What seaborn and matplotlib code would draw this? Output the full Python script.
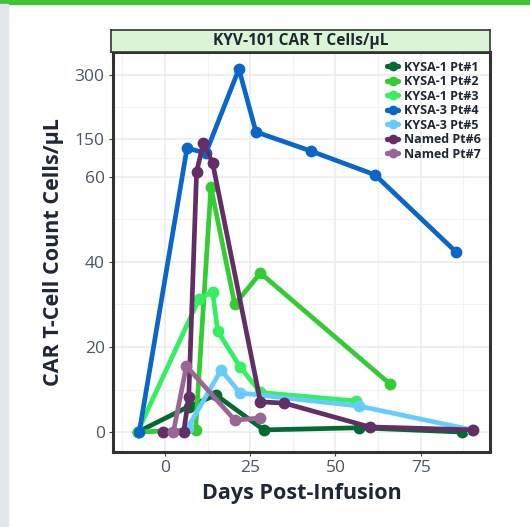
import numpy as np
import pandas as pd
import matplotlib
matplotlib.use("Agg")
import matplotlib.pyplot as plt
import seaborn as sns
from matplotlib.lines import Line2D
from matplotlib.patches import Rectangle
from matplotlib.ticker import FixedLocator

# series (days post-infusion, cells/uL)
pt1_day = [-8, 7, 15, 29, 57, 87]
pt1_val = [0, 6, 8.7, 0.5, 1.0, 0]
pt2_day = [-8, 9, 13.5, 20.5, 28, 66]
pt2_val = [0, 0.5, 57.6, 30, 37.4, 11.3]
pt3_day = [-8, 10, 14, 15.5, 22, 28, 56]
pt3_val = [0, 31.3, 33, 23.7, 15.4, 9.3, 7.3]
pt4_day = [-7.5, 6.5, 12, 21.7, 26.7, 42.8, 61.6, 85.3]
pt4_val = [0, 128, 116, 314, 166, 121, 65, 42.4]
pt5_day = [6.7, 16.5, 22, 57, 90]
pt5_val = [1.0, 14.6, 9.2, 6.1, 0.5]
pt6_day = [-0.5, 5.5, 7, 9.3, 11.3, 14, 28, 35, 60, 90.3]
pt6_val = [0, 0, 8.2, 72, 140, 93, 7.1, 6.8, 1.2, 0.5]
pt7_day = [2.5, 6.3, 20.5, 28]
pt7_val = [0, 15.5, 2.8, 3.3]

names = ["KYSA-1 Pt#1", "KYSA-1 Pt#2", "KYSA-1 Pt#3", "KYSA-3 Pt#4",
         "KYSA-3 Pt#5", "Named Pt#6", "Named Pt#7"]
colors = ["#036B32", "#33CC33", "#33F060", "#0A66C8",
          "#66CCFF", "#632E63", "#9B6596"]
days = [pt1_day, pt2_day, pt3_day, pt4_day, pt5_day, pt6_day, pt7_day]
vals = [pt1_val, pt2_val, pt3_val, pt4_val, pt5_val, pt6_val, pt7_val]

y_ticks = [0, 20, 40, 60, 150, 300]
x_ticks = [0, 25, 50, 75]

df = pd.concat([pd.DataFrame({"Day": d, "Cells": v, "Patient": n})
                for d, v, n in zip(days, vals, names)], ignore_index=True)


# axis is linear up to 60 then compressed 10x above it
def fwd(y):
    y = np.asarray(y, dtype=float)
    return np.where(y <= 60, y, 60 + (y - 60) / 10)


def inv(t):
    t = np.asarray(t, dtype=float)
    return np.where(t <= 60, t, 60 + (t - 60) * 10)


sns.set_style("white")
plt.rcParams["font.family"] = ["Open Sans", "DejaVu Sans"]

fig = plt.figure(figsize=(5.30, 5.27), dpi=100)
ax = fig.add_axes([113 / 530, 1 - 452 / 527, 377 / 530, 400 / 527])

sns.lineplot(data=df, x="Day", y="Cells", hue="Patient", hue_order=names,
             palette=dict(zip(names, colors)), estimator=None, sort=False,
             marker="o", markersize=8.5, markeredgewidth=0, linewidth=3.4,
             legend=False, ax=ax)

ax.set_yscale("function", functions=(fwd, inv))
ax.set_ylim(-4.7, 354)
ax.set_xlim(-15.2, 95.3)
ax.yaxis.set_major_locator(FixedLocator(y_ticks))
ax.yaxis.set_minor_locator(FixedLocator([10, 30, 50, 105, 225]))
ax.xaxis.set_major_locator(FixedLocator(x_ticks))
ax.xaxis.set_minor_locator(FixedLocator([-12.5, 12.5, 37.5, 62.5, 87.5]))
ax.set_yticklabels([str(t) for t in y_ticks])
ax.set_xticklabels([str(t) for t in x_ticks])

ax.grid(True, which="major", color="#EBEBEB", linewidth=1.1)
ax.grid(True, which="minor", color="#F2F2F2", linewidth=0.8)
ax.set_axisbelow(True)
for s in ax.spines.values():
    s.set_color("#333333")
    s.set_linewidth(2.2)
ax.tick_params(axis="both", which="major", length=3, width=0.8, color="#444444",
               labelsize=12.5, labelcolor="#4A5566", pad=3, left=True, bottom=True)
ax.tick_params(axis="both", which="minor", length=0)

ax.set_xlabel("Days Post-Infusion", fontsize=15.5, fontweight="bold",
              color="#1E2733", labelpad=5)
ax.set_ylabel("CAR T-Cell Count Cells/µL", fontsize=15.5, fontweight="bold",
              color="#1E2733", labelpad=8)

# strip title like a facet header
strip = fig.add_axes([111 / 530, 1 - 52 / 527, 379 / 530, 22 / 527])
strip.set_xticks([]); strip.set_yticks([])
strip.set_facecolor("#D9F5D3")
for s in strip.spines.values():
    s.set_color("#333333")
    s.set_linewidth(1.2)
strip.text(0.5, 0.5, "KYV-101 CAR T Cells/µL", ha="center", va="center",
           fontsize=11.2, fontweight="bold", color="#1E2733",
           transform=strip.transAxes)

handles = [Line2D([0], [0], color=c, linewidth=3.8, marker="o", markersize=7,
                  markeredgewidth=0) for c in colors]
leg = ax.legend(handles, names, loc="upper right", bbox_to_anchor=(1.0, 1.0),
                frameon=False, handlelength=0.9, handletextpad=0.5,
                labelspacing=0.12, prop={"size": 9, "weight": "bold"},
                borderaxespad=0.3)
for t in leg.get_texts():
    t.set_color("#1E2733")

# screenshot frame: green bar on top, grey edge on the left
fig.patches.append(Rectangle((0, 1 - 4 / 527), 1, 4 / 527, transform=fig.transFigure,
                             color="#44C234", zorder=0))
fig.patches.append(Rectangle((0, 0), 8 / 530, 1 - 4 / 527, transform=fig.transFigure,
                             color="#E3E7EB", zorder=0))

fig.savefig("out.png", dpi=100)
